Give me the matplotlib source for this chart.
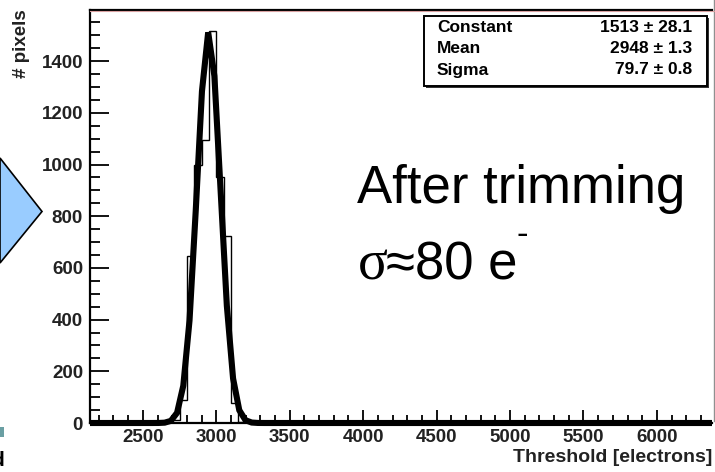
import numpy as np
import matplotlib
matplotlib.use("Agg")
import matplotlib.pyplot as plt
from matplotlib.patches import Polygon, Rectangle
from matplotlib.lines import Line2D
from matplotlib.ticker import MultipleLocator

plt.rcParams['font.family'] = ['Liberation Sans', 'DejaVu Sans']

# threshold histogram (50 e- bins) and gaussian fit parameters
bin_edges = [2700, 2750, 2800, 2850, 2900, 2950, 3000, 3050, 3100, 3150, 3200]
counts = [10, 89, 647, 1000, 1095, 1517, 950, 724, 77, 5]
fit_constant, fit_constant_err = 1513, 28.1
fit_mean, fit_mean_err = 2948, 1.3
fit_sigma, fit_sigma_err = 79.7, 0.8

x_range = (2140, 6375)
y_range = (0, 1600)
x_ticks = [2500, 3000, 3500, 4000, 4500, 5000, 5500, 6000]
y_ticks = [0, 200, 400, 600, 800, 1000, 1200, 1400]

W, H = 715, 472
fig = plt.figure(figsize=(W / 100, H / 100), dpi=100)

def fx(px):
    return px / W

def fy(py):
    return 1 - py / H

# slide decorations around the canvas
fig.patches.append(Polygon([[fx(0), fy(158)], [fx(42), fy(211.5)], [fx(0), fy(263)]],
                           closed=True, facecolor='#99ccff', edgecolor='black',
                           linewidth=1.2, transform=fig.transFigure, zorder=0))
fig.patches.append(Rectangle((fx(0), fy(437)), fx(4), 10 / H, facecolor='#6a9fa3',
                             edgecolor='none', transform=fig.transFigure))
fig.text(fx(-9), fy(461), 'd', fontsize=15, fontweight='bold', va='center', ha='left')
fig.lines.append(Line2D([fx(713.5), fx(713.5)], [fy(0), fy(421)], color='#909090',
                        linewidth=1, transform=fig.transFigure))
# reddish edge just under the top of the frame
fig.lines.append(Line2D([fx(90), fx(715)], [fy(11), fy(11)], color='#d9a0a0',
                        linewidth=0.8, transform=fig.transFigure))

ax = fig.add_axes([fx(90), fy(423), fx(712) - fx(90), (423 - 9.5) / H])
ax.set_xlim(*x_range)
ax.set_ylim(*y_range)
ax.patch.set_alpha(0)

# histogram outline
ax.stairs(counts, bin_edges, color='black', linewidth=1.0, zorder=3)

# fitted gaussian drawn with 100 segments over the full range
xf = np.linspace(x_range[0], x_range[1], 101)
yf = fit_constant * np.exp(-0.5 * ((xf - fit_mean) / fit_sigma) ** 2)
ax.plot(xf, yf, color='black', linewidth=4.4, solid_joinstyle='miter',
        solid_capstyle='butt', clip_on=False, zorder=4)

ax.set_xticks(x_ticks)
ax.set_yticks(y_ticks)
ax.xaxis.set_minor_locator(MultipleLocator(100))
ax.yaxis.set_minor_locator(MultipleLocator(50))
ax.tick_params(axis='both', which='both', direction='in', top=False, right=False,
               width=1.3, colors='black', labelsize=13.5)
ax.tick_params(axis='x', which='major', length=9.5, pad=4)
ax.tick_params(axis='x', which='minor', length=5.5)
ax.tick_params(axis='y', which='major', length=14, pad=5)
ax.tick_params(axis='y', which='minor', length=7.5)
for lab in ax.get_xticklabels() + ax.get_yticklabels():
    lab.set_fontweight('bold')
    lab.set_color('#222222')

for side in ['left', 'top', 'bottom']:
    ax.spines[side].set_linewidth(1.6)
ax.spines['right'].set_visible(False)

fig.text(fx(712), fy(458), 'Threshold [electrons]', fontsize=14, fontweight='bold',
         ha='right', va='center', color='#222222')
fig.text(fx(22), fy(9), '# pixels', fontsize=13.5, fontweight='bold', rotation=90,
         ha='center', va='top', color='#222222')

# fit statistics box
fig.patches.append(Rectangle((fx(426), fy(88)), fx(707) - fx(424), (88 - 18) / H,
                             facecolor='#333333', edgecolor='none',
                             transform=fig.transFigure, zorder=5))
fig.patches.append(Rectangle((fx(424), fy(86)), fx(707) - fx(424), (86 - 16) / H,
                             facecolor='white', edgecolor='black', linewidth=1.4,
                             transform=fig.transFigure, zorder=6))
stat_rows = [('Constant', f'{fit_constant} \u00b1 {fit_constant_err}'),
             ('Mean', f'{fit_mean} \u00b1 {fit_mean_err}'),
             ('Sigma', f'{fit_sigma} \u00b1 {fit_sigma_err}')]
for i, (name, val) in enumerate(stat_rows):
    yy = fy(27 + i * 21.5)
    fig.text(fx(437), yy, name, fontsize=12.5, fontweight='bold', ha='left',
             va='center', zorder=7)
    fig.text(fx(692), yy, val, fontsize=12.5, fontweight='bold', ha='right',
             va='center', zorder=7)

# annotation text
fig.text(fx(357), fy(203), 'After trimming', fontsize=38, ha='left', va='baseline')
fig.text(fx(358), fy(280), '\u03c3', fontsize=40, ha='left', va='baseline',
         family=['Liberation Serif', 'DejaVu Serif'])
fig.text(fx(386), fy(280), '\u224880 e', fontsize=38, ha='left', va='baseline')
fig.text(fx(516), fy(244), '-', fontsize=25, ha='left', va='baseline')

fig.savefig('out.png', dpi=100)
